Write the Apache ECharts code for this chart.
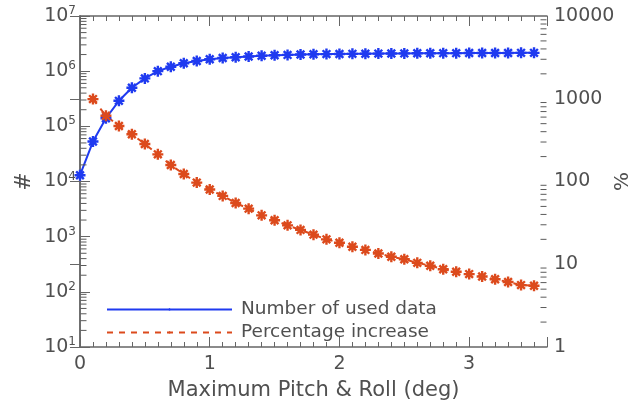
<!DOCTYPE html>
<html>
<head>
<meta charset="utf-8">
<script src="https://cdn.jsdelivr.net/npm/echarts@6/dist/echarts.min.js"></script>
<style>
html, body { margin: 0; padding: 0; background: #fff; }
#chart { width: 630px; height: 404px; }
</style>
</head>
<body>
<div id="chart"></div>
<script>
// x positions (deg)
const pitchRoll = [0, 0.1, 0.2, 0.3, 0.4, 0.5, 0.6, 0.7, 0.8, 0.9, 1.0, 1.1, 1.2, 1.3, 1.4, 1.5, 1.6, 1.7,
    1.8, 1.9, 2.0, 2.1, 2.2, 2.3, 2.4, 2.5, 2.6, 2.7, 2.8, 2.9, 3.0, 3.1, 3.2, 3.3, 3.4, 3.5];
// number of used data (left axis)
const usedData = [1.3e4, 5.3e4, 1.4e5, 2.9e5, 5.0e5, 7.4e5, 1.0e6, 1.2e6, 1.39e6, 1.53e6, 1.64e6, 1.73e6,
    1.79e6, 1.85e6, 1.9e6, 1.94e6, 1.97e6, 2.0e6, 2.02e6, 2.04e6, 2.05e6, 2.06e6, 2.07e6, 2.08e6, 2.09e6,
    2.1e6, 2.11e6, 2.11e6, 2.12e6, 2.12e6, 2.13e6, 2.13e6, 2.14e6, 2.14e6, 2.15e6, 2.15e6];
// percentage increase (right axis), none at 0
const pctIncrease = [null, 990, 624, 468, 372, 284, 213, 158, 123, 97, 80, 67, 55, 47, 39, 34, 29.5, 26,
    22.8, 20, 18.2, 16.3, 14.9, 13.5, 12.3, 11.5, 10.4, 9.6, 8.7, 8.1, 7.6, 7.1, 6.6, 6.1, 5.6, 5.5];
const legendNames = ["Number of used data", "Percentage increase"];
const xTickLabels = ["0", "1", "2", "3"];

const blue = "#1f3af0";
const red = "#dc4a1c";
const axisColor = "#666";
const textColor = "#505050";
const fontFamily = "DejaVu Sans";
const xMax = 3.6;

const asterisk = "path://M0,5 L10,5 M5,0 L5,10 M1.5,1.5 L8.5,8.5 M1.5,8.5 L8.5,1.5";

// log minor ticks 2..9 in each decade
const minorLog = (lo, hi) => {
    let out = [];
    for (let d = lo; d < hi; d *= 10) {
        for (let k = 2; k <= 9; k++) out.push(k * d);
    }
    return out;
};
const leftMinor = minorLog(10, 1e7).map(v => [1, v]);
const rightMinor = minorLog(1, 1e4).map(v => [1, v]);

// minor ticks drawn inward from the grid edge
const tickSeries = (data, yIndex, side) => ({
    type: "custom",
    xAxisIndex: 0,
    yAxisIndex: yIndex,
    silent: true,
    clip: false,
    z: 5,
    data: data,
    renderItem: (params, api) => {
        const cs = params.coordSys;
        const y = api.coord([api.value(0), api.value(1)])[1];
        const x0 = side === "left" ? cs.x + 0.5 : cs.x + cs.width - 0.5;
        const dir = side === "left" ? 1 : -1;
        return {
            type: "line",
            shape: { x1: x0, y1: y, x2: x0 + dir * 6, y2: y },
            style: { stroke: "#5a5a5a", lineWidth: 1 },
        };
    },
});

const toPairs = arr => pitchRoll.map((x, i) => [x, arr[i]]).filter(p => p[1] != null);

const xAxisBase = (pos, showLabel) => ({
    type: "value",
    position: pos,
    min: 0,
    max: xMax,
    interval: 1,
    axisLine: { show: true, onZero: false, lineStyle: { color: axisColor, width: 1.5 } },
    axisTick: { show: true, inside: true, length: 10, lineStyle: { color: axisColor } },
    minorTick: { show: true, splitNumber: 10, length: 5, lineStyle: { color: axisColor } },
    splitLine: { show: false },
    axisLabel: {
        show: showLabel,
        showMaxLabel: false,
        margin: 8,
        fontSize: 19,
        fontFamily,
        color: textColor,
        formatter: v => (Number.isInteger(v) ? xTickLabels[v] : ""),
    },
});

const chart = echarts.init(document.getElementById("chart"));
const option = {
    animation: false,
    backgroundColor: "#fff",
    grid: { left: 80, right: 83, top: 16, bottom: 57, containLabel: false, outerBoundsMode: "none" },
    legend: {
        orient: "vertical",
        left: 101,
        top: 295,
        itemWidth: 125,
        itemHeight: 1,
        itemGap: 4,
        selectedMode: false,
        textStyle: { fontSize: 18.5, fontFamily, color: textColor, padding: [0, 0, 0, 4] },
        data: legendNames,
    },
    xAxis: [
        Object.assign(xAxisBase("bottom", true), {
            name: "Maximum Pitch & Roll (deg)",
            nameLocation: "middle",
            nameGap: 33,
            nameMoveOverlap: false,
            nameTextStyle: { fontSize: 21, fontFamily, color: textColor },
        }),
        xAxisBase("top", false),
    ],
    yAxis: [
        {
            type: "log",
            logBase: 10,
            position: "left",
            min: 10,
            max: 1e7,
            name: "#",
            nameLocation: "middle",
            nameGap: 45,
            nameMoveOverlap: false,
            nameRotate: 90,
            nameTextStyle: { fontSize: 22, fontFamily, color: textColor },
            axisLine: { show: true, lineStyle: { color: axisColor, width: 1.5 } },
            axisTick: { show: true, inside: true, length: 10, lineStyle: { color: axisColor } },
            splitLine: { show: false },
            axisLabel: {
                margin: 4,
                fontFamily,
                color: textColor,
                formatter: v => "{b|10}{e|" + Math.round(Math.log10(v)) + "}",
                rich: {
                    b: { fontSize: 19, fontFamily, color: textColor },
                    e: { fontSize: 12, fontFamily, color: textColor, padding: [0, 0, 10, 0] },
                },
            },
        },
        {
            type: "log",
            logBase: 10,
            position: "right",
            min: 1,
            max: 10000,
            name: "%",
            nameLocation: "middle",
            nameGap: 66,
            nameMoveOverlap: false,
            nameRotate: 90,
            nameTextStyle: { fontSize: 20, fontFamily, color: textColor },
            axisLine: { show: true, lineStyle: { color: axisColor, width: 1.5 } },
            axisTick: { show: true, inside: true, length: 10, lineStyle: { color: axisColor } },
            splitLine: { show: false },
            axisLabel: { margin: 7, fontSize: 19, fontFamily, color: textColor, formatter: v => String(Math.round(v)) },
        },
    ],
    series: [
        tickSeries(leftMinor, 0, "left"),
        tickSeries(rightMinor, 1, "right"),
        {
            name: legendNames[0],
            type: "line",
            yAxisIndex: 0,
            data: toPairs(usedData),
            color: blue,
            symbol: asterisk,
            symbolSize: 11,
            itemStyle: { color: blue, borderColor: blue, borderWidth: 2.4 },
            lineStyle: { color: blue, width: 2 },
            z: 3,
        },
        {
            name: legendNames[1],
            type: "line",
            yAxisIndex: 1,
            data: toPairs(pctIncrease),
            color: red,
            symbol: asterisk,
            symbolSize: 11,
            itemStyle: { color: red, borderColor: red, borderWidth: 2.4 },
            lineStyle: { color: red, width: 2, type: [6, 6] },
            z: 3,
        },
    ],
};
chart.setOption(option);
</script>
</body>
</html>
